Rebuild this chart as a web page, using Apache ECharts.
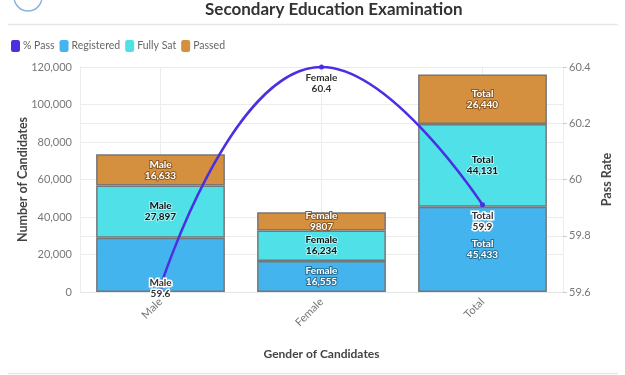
<!DOCTYPE html>
<html><head><meta charset="utf-8">
<script src="https://cdn.jsdelivr.net/npm/echarts@6/dist/echarts.min.js"></script>
<style>html,body{margin:0;padding:0;background:#fff}#c{width:625px;height:375px}</style>
</head><body><div id="c"></div>
<script>
const categories = ['Male', 'Female', 'Total'];
const registered = [28878, 16555, 45433];
const fullySat = [27897, 16234, 44131];
const passed = [16633, 9807, 26440];
const passRate = [59.62, 60.4, 59.91];
const leftTicks = [0, 20000, 40000, 60000, 80000, 100000, 120000];
const rightTicks = [59.6, 59.8, 60, 60.2, 60.4];

const FONT = 'Lato, "Open Sans", sans-serif';
const fmt = v => v.toLocaleString('en-US');
const fmtLabel = v => v >= 10000 ? v.toLocaleString('en-US') : String(v);

function barLabel(color, border) {
  return {
    show: true, position: 'inside', fontFamily: FONT, fontSize: 10, fontWeight: 'bold',
    lineHeight: 11, color: color, textBorderColor: border, textBorderWidth: 2,
    formatter: p => p.name + '\n' + fmtLabel(p.value)
  };
}
function barData(arr, hide) {
  return arr.map((v, i) => hide && hide.indexOf(i) >= 0 ? { value: v, label: { show: false } } : v);
}
const itemBorder = { borderColor: '#777', borderWidth: 1.5 };

const chart = echarts.init(document.getElementById('c'));
chart.setOption({
  animation: false,
  textStyle: { fontFamily: FONT },
  title: {
    text: 'Secondary Education Examination', left: 200, top: -4,
    textStyle: { fontFamily: FONT, fontSize: 17, fontWeight: 'bold', color: '#333' }
  },
  legend: {
    left: 6, top: 35, itemWidth: 9, itemHeight: 12, itemGap: 5,
    icon: 'roundRect',
    itemStyle: { borderWidth: 0 },
    textStyle: { fontFamily: FONT, fontSize: 10.5, color: '#666', padding: [0, 0, 0, -2] },
    data: ['% Pass', 'Registered', 'Fully Sat', 'Passed']
  },
  grid: { left: 80, right: 62, top: 67, bottom: 83 },
  xAxis: {
    type: 'category', data: categories,
    name: 'Gender of Candidates', nameLocation: 'middle', nameGap: 56, nameMoveOverlap: false,
    nameTextStyle: { fontFamily: FONT, fontSize: 12, fontWeight: 'bold', color: '#444' },
    axisLine: { lineStyle: { color: '#e6e6e6' } },
    axisTick: { show: false },
    axisLabel: { rotate: 45, color: '#777', fontSize: 11, margin: 8 },
    splitLine: { show: true, alignWithLabel: true, lineStyle: { color: '#ececec' } }
  },
  yAxis: [{
    type: 'value', min: 0, max: 120000, interval: 20000,
    name: 'Number of Candidates', nameLocation: 'middle', nameGap: 51, nameMoveOverlap: false,
    nameTextStyle: { fontFamily: FONT, fontSize: 12.5, fontWeight: 'bold', color: '#444' },
    axisLine: { show: true, lineStyle: { color: '#ececec' } },
    axisLabel: { color: '#777', fontSize: 11, margin: 8, formatter: v => fmt(v) },
    splitLine: { lineStyle: { color: '#ececec' } }
  }, {
    type: 'value', min: 59.6, max: 60.4, interval: 0.2,
    name: 'Pass Rate', nameLocation: 'middle', nameGap: 37, nameMoveOverlap: false,
    nameTextStyle: { fontFamily: FONT, fontSize: 12.5, fontWeight: 'bold', color: '#444' },
    axisLine: { show: true, lineStyle: { color: '#ececec' } },
    axisTick: { show: true, length: 4, lineStyle: { color: '#ccc' } },
    axisLabel: { color: '#777', fontSize: 11, margin: 6,
      formatter: v => rightTicks.find(t => Math.abs(t - v) < 1e-6) !== undefined ? String(Math.round(v * 10) / 10) : '' },
    splitLine: { lineStyle: { color: '#ececec' } }
  }],
  series: [{
    name: '% Pass', type: 'line', yAxisIndex: 1, z: 5, smooth: 0.5,
    data: passRate.map((v, i) => i === 0 ? { value: v, label: { distance: -12 } } : v),
    symbol: 'circle', symbolSize: 5,
    itemStyle: { color: '#4b2fe3' },
    lineStyle: { color: '#4b2fe3', width: 2.5 },
    label: {
      show: true, position: 'bottom', distance: 3, fontFamily: FONT, fontSize: 10, fontWeight: 'bold',
      lineHeight: 11, color: '#333', textBorderColor: '#fff', textBorderWidth: 3,
      formatter: p => p.name + '\n' + (Math.round(p.value * 10) / 10)
    }
  }, {
    name: 'Registered', type: 'bar', stack: 's', barWidth: '80%',
    data: barData(registered, [0]),
    itemStyle: Object.assign({ color: '#43b4ee' }, itemBorder),
    label: barLabel('#fff', '#2a6f95')
  }, {
    name: 'Fully Sat', type: 'bar', stack: 's',
    data: barData(fullySat),
    itemStyle: Object.assign({ color: '#4fe1e7' }, itemBorder),
    label: barLabel('#111', 'rgba(220,255,255,0.6)')
  }, {
    name: 'Passed', type: 'bar', stack: 's',
    data: barData(passed),
    itemStyle: Object.assign({ color: '#d48f3f' }, itemBorder),
    label: barLabel('#fff', '#8a5a25')
  }],
  graphic: [
    { type: 'line', shape: { x1: 8, y1: 24.5, x2: 618, y2: 24.5 }, style: { stroke: '#e8e8e8', lineWidth: 1.5 } },
    { type: 'line', shape: { x1: 8, y1: 373.5, x2: 618, y2: 373.5 }, style: { stroke: '#e8e8e8', lineWidth: 1.5 } },
    { type: 'circle', shape: { cx: 28, cy: -3, r: 14 }, style: { fill: '#fff', stroke: '#8fb4dc', lineWidth: 1.5 } }
  ]
});
</script></body></html>
